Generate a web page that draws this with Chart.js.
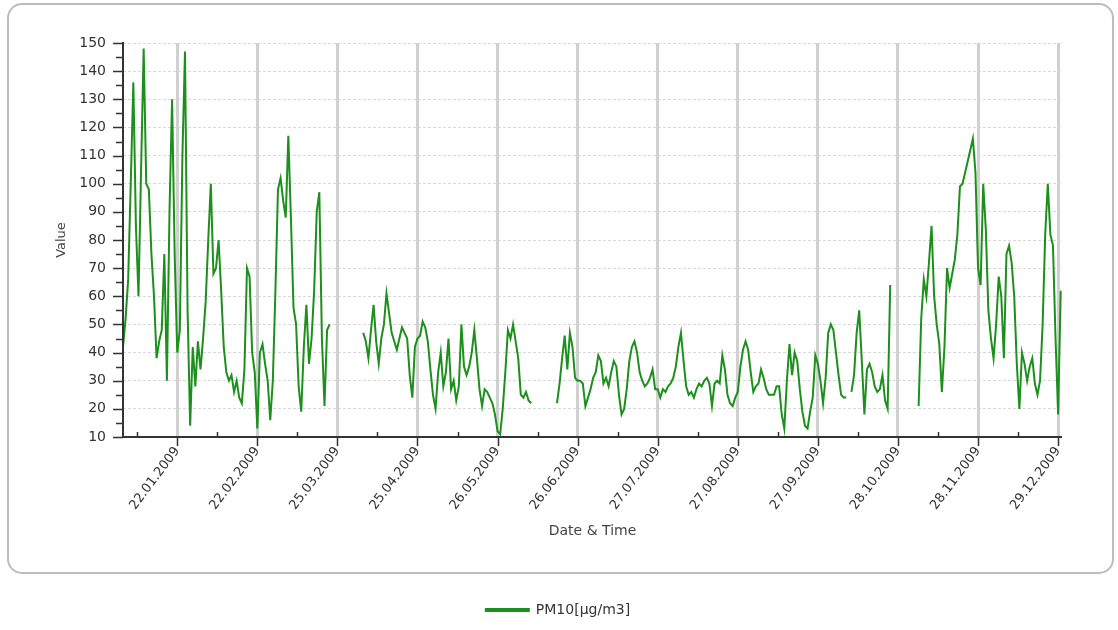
<!DOCTYPE html>
<html>
<head>
<meta charset="utf-8">
<script src="https://cdn.jsdelivr.net/npm/chart.js@4.4.1/dist/chart.umd.min.js"></script>
<style>
    html, body { margin: 0; padding: 0; background: #ffffff; }
    #wrap { width: 1118px; height: 630px; }
</style>
</head>
<body>
<div id="wrap"><canvas id="pmChart" width="1118" height="630"></canvas></div>
<script>
// daily PM10 values, index 0 = 01.01.2009, null = no measurement
var pm10Jan = [42, 52, 66, 100, 136, 85, 60, 105, 148, 100, 98, 75, 60, 38, 44, 48, 75, 30, 90, 130,
    75, 40, 48, 110, 147, 55, 14, 42, 28, 44, 34]
var pm10Feb = [45, 58, 80, 100, 68, 70, 80, 62, 42, 33, 30, 32, 26, 30, 24, 22, 34, 70, 67, 40,
    33, 13, 40, 43, 36, 30, 16, 30]
var pm10Mar = [62, 98, 102, 94, 88, 117, 88, 56, 50, 28, 19, 42, 57, 36, 45, 62, 90, 97, 45, 21,
    48, 50, null, null, null, null, null, null, null, null, null]
var pm10Apr = [null, null, null, 47, 44, 38, 48, 57, 44, 36, 45, 50, 61, 54, 47, 44, 41, 45, 49, 47,
    45, 32, 24, 42, 45, 46, 51, 49, 44, 34]
var pm10May = [25, 20, 33, 40, 28, 33, 45, 27, 30, 23, 28, 50, 35, 32, 35, 40, 48, 38, 27, 21,
    27, 26, 24, 22, 18, 12, 11, 20, 33, 48, 45]
var pm10Jun = [50, 44, 38, 25, 24, 26, 23, 22, null, null, null, null, null, null, null, null, null, 22, 29, 38,
    46, 34, 47, 42, 31, 30, 30, 29, 21, 24]
var pm10Jul = [27, 31, 33, 39, 37, 29, 31, 28, 33, 37, 35, 25, 18, 20, 27, 37, 42, 44, 40, 33,
    30, 28, 29, 31, 34, 27, 27, 24, 27, 26, 28]
var pm10Aug = [29, 31, 35, 42, 47, 37, 28, 25, 26, 24, 27, 29, 28, 30, 31, 29, 21, 29, 30, 29,
    39, 34, 25, 22, 21, 24, 26, 35, 41, 44, 41]
var pm10Sep = [33, 26, 28, 29, 34, 31, 27, 25, 25, 25, 28, 28, 18, 13, 30, 43, 32, 40, 37, 27,
    19, 14, 13, 19, 24, 39, 36, 30, 22, 31]
var pm10Oct = [47, 50, 48, 40, 32, 25, 24, 24, null, 26, 32, 47, 55, 37, 18, 34, 36, 33, 28, 26,
    27, 32, 23, 20, 64, null, null, null, null, null, null]
var pm10Nov = [null, null, null, null, 21, 52, 66, 60, 72, 85, 60, 50, 43, 26, 42, 70, 63, 68, 73, 82,
    99, 100, 104, 108, 112, 116, 104, 70, 64, 100]
var pm10Dec = [84, 55, 45, 38, 50, 67, 60, 38, 75, 78, 72, 60, 36, 20, 40, 36, 30, 35, 38, 29,
    25, 30, 50, 82, 100, 82, 78, 45, 18, 62]

var pm10Values = [].concat(pm10Jan, pm10Feb, pm10Mar, pm10Apr, pm10May, pm10Jun,
    pm10Jul, pm10Aug, pm10Sep, pm10Oct, pm10Nov, pm10Dec)

// axis ticks (day of year) and their labels
var tickDays = [21, 52, 83, 114, 145, 176, 207, 238, 269, 300, 331, 362]
var tickLabels = ['22.01.2009', '22.02.2009', '25.03.2009', '25.04.2009', '26.05.2009', '26.06.2009',
    '27.07.2009', '27.08.2009', '27.09.2009', '28.10.2009', '28.11.2009', '29.12.2009']
var seriesName = 'PM10[µg/m3]'

var lineGreen = '#1c8f1c'
var fontFamily = "'DejaVu Sans', 'Liberation Sans', sans-serif"

var pmPoints = pm10Values.map(function (v, i) {
    return { x: i, y: v }
})

// rounded frame behind the plot
var framePlugin = {
    id: 'frame',
    beforeDraw: function (chart) {
        var ctx = chart.ctx
        ctx.save()
        ctx.fillStyle = '#ffffff'
        ctx.fillRect(0, 0, chart.width, chart.height)
        ctx.strokeStyle = '#bdbdbd'
        ctx.lineWidth = 2
        ctx.beginPath()
        ctx.roundRect(8, 4, 1105, 569, 14)
        ctx.stroke()
        ctx.restore()
    }
}

// axis lines with major / minor tick marks
var axisPlugin = {
    id: 'axisMarks',
    afterDraw: function (chart) {
        var ctx = chart.ctx
        var area = chart.chartArea
        var xs = chart.scales.x
        var ys = chart.scales.y
        ctx.save()
        ctx.strokeStyle = '#333333'
        ctx.lineWidth = 2
        ctx.beginPath()
        ctx.moveTo(area.left, area.top - 1)
        ctx.lineTo(area.left, area.bottom)
        ctx.lineTo(area.right, area.bottom)
        ctx.stroke()

        ctx.lineWidth = 1.5
        ctx.beginPath()
        for (var v = ys.min; v <= ys.max; v += 5) {
            var py = Math.round(ys.getPixelForValue(v)) + 0.5
            var len = (v % 10 === 0) ? 10 : 7
            ctx.moveTo(area.left - len, py)
            ctx.lineTo(area.left, py)
        }
        tickDays.forEach(function (d) {
            var px = Math.round(xs.getPixelForValue(d)) + 0.5
            ctx.moveTo(px, area.bottom)
            ctx.lineTo(px, area.bottom + 9)
            var mx = Math.round(xs.getPixelForValue(d - 15.5)) + 0.5
            ctx.moveTo(mx, area.bottom)
            ctx.lineTo(mx, area.bottom - 5)
        })
        ctx.stroke()
        ctx.restore()
    }
}

var canvas = document.getElementById('pmChart').getContext('2d')

var pmChart = new Chart(canvas, {
    type: 'line',
    data: {
        datasets: [
            {
                label: seriesName,
                data: pmPoints,
                borderColor: lineGreen,
                backgroundColor: lineGreen,
                borderWidth: 2,
                pointRadius: 0,
                tension: 0,
                spanGaps: false
            }
        ]
    },
    options: {
        responsive: false,
        animation: false,
        layout: {
            padding: { top: 43, left: 54, right: 56, bottom: 3 }
        },
        plugins: {
            tooltip: { enabled: false },
            legend: {
                position: 'bottom',
                labels: {
                    boxWidth: 43,
                    boxHeight: 2,
                    padding: 10,
                    color: '#333333',
                    font: { family: fontFamily, size: 14 }
                }
            }
        },
        scales: {
            x: {
                type: 'linear',
                min: 0,
                max: 363.5,
                afterBuildTicks: function (scale) {
                    scale.ticks = tickDays.map(function (d) { return { value: d } })
                },
                afterFit: function (scale) {
                    scale.height = 156
                },
                grid: {
                    color: '#d0d0d0',
                    lineWidth: 3,
                    drawTicks: false
                },
                border: { display: false },
                ticks: {
                    autoSkip: false,
                    minRotation: 53,
                    maxRotation: 53,
                    padding: 7,
                    color: '#333333',
                    font: { family: fontFamily, size: 13 },
                    callback: function (value, index) {
                        return tickLabels[index]
                    }
                },
                title: {
                    display: true,
                    text: 'Date & Time',
                    color: '#444444',
                    font: { family: fontFamily, size: 14 },
                    padding: { top: 0, bottom: 53 }
                }
            },
            y: {
                min: 10,
                max: 150,
                afterFit: function (scale) {
                    scale.width = 69
                },
                grid: {
                    color: '#d8d8d8',
                    lineWidth: 1,
                    drawTicks: false
                },
                border: { display: false, dash: [3, 2] },
                ticks: {
                    stepSize: 10,
                    padding: 17,
                    color: '#333333',
                    font: { family: fontFamily, size: 14 }
                },
                title: {
                    display: true,
                    text: 'Value',
                    color: '#444444',
                    font: { family: fontFamily, size: 13 },
                    padding: { top: 0, bottom: 0 }
                }
            }
        }
    },
    plugins: [framePlugin, axisPlugin]
})
</script>
</body>
</html>
